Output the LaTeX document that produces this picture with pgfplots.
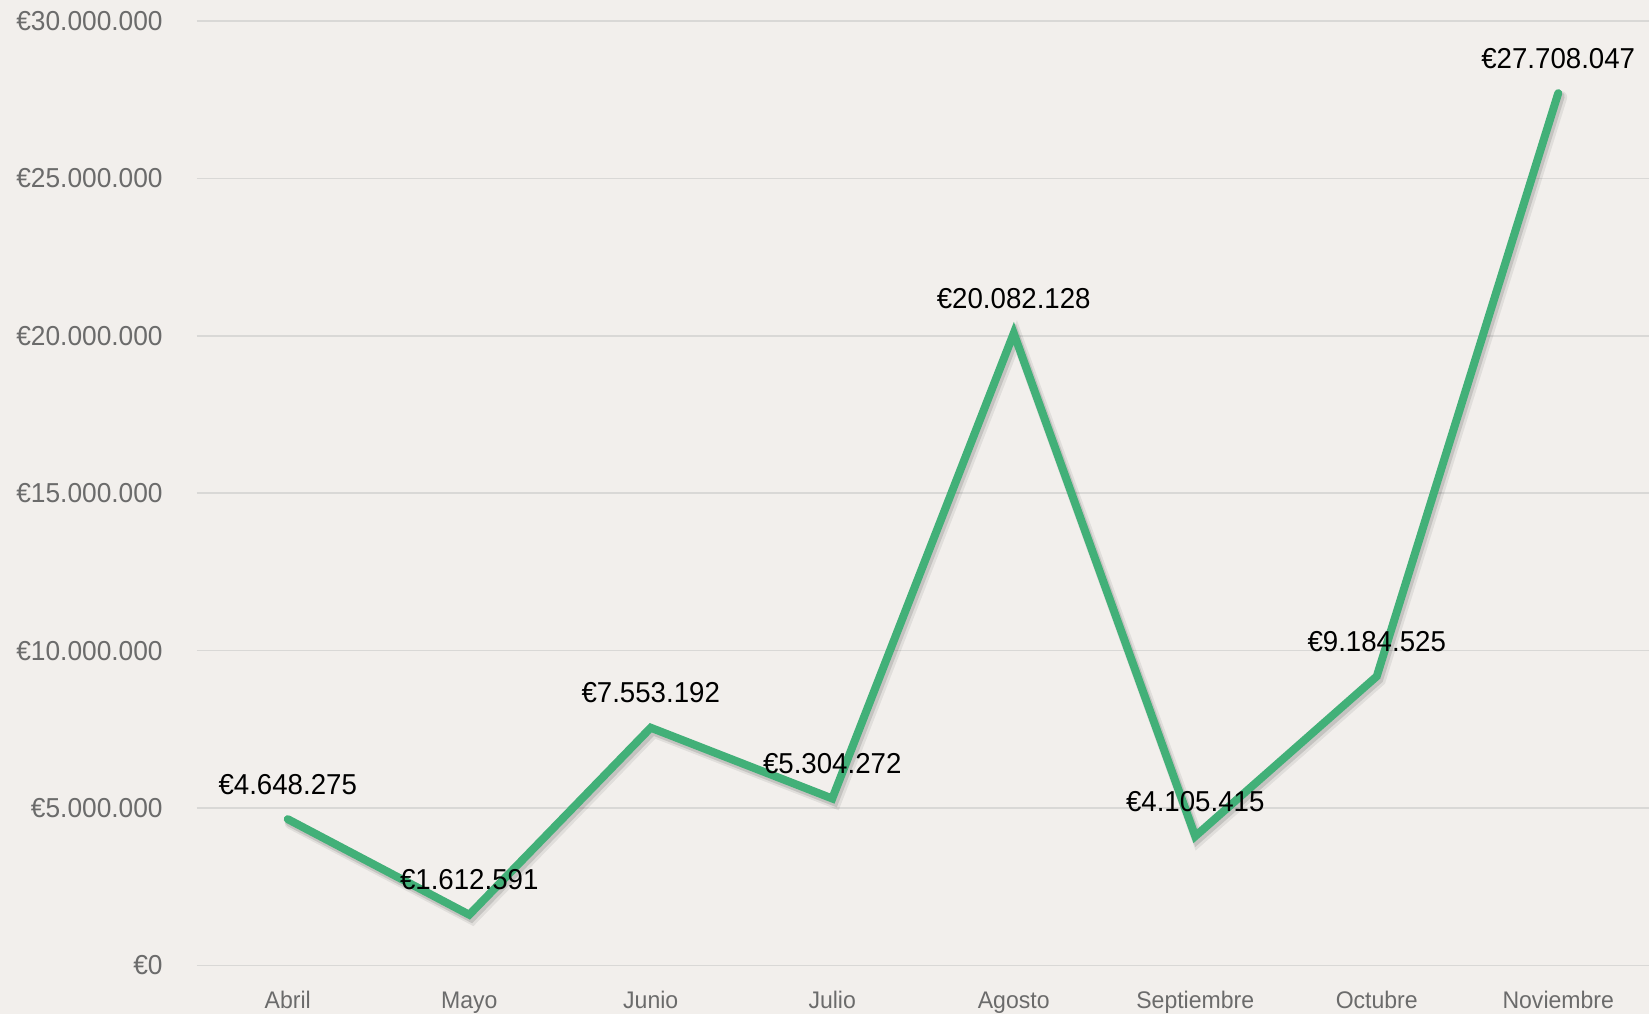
\documentclass[border=0pt]{standalone}
\usepackage{fontspec}
\setmainfont{Liberation Sans}[FakeStretch=0.96]
\usepackage{pgfplots}
\pgfplotsset{compat=1.18}
\definecolor{bg}{HTML}{F2EFEC}
\definecolor{gridc}{HTML}{D9D8D6}
\definecolor{tickc}{HTML}{6B6B6B}
\definecolor{verde}{HTML}{42B078}

\begin{document}
\begin{tikzpicture}
\fill[bg] (-98.5pt,-24.25pt) rectangle (726pt,482.75pt);
\begin{axis}[
  at={(0,0)}, anchor=south west,
  scale only axis,
  width=726pt, height=472.25pt,
  xmin=-0.5, xmax=7.5,
  ymin=0, ymax=30000000,
  axis line style={draw=none},
  tick style={draw=none},
  xtick={0,1,2,3,4,5,6,7},
  xticklabels={Abril,Mayo,Junio,Julio,Agosto,Septiembre,Octubre,Noviembre},
  ytick={0,5000000,10000000,15000000,20000000,25000000,30000000},
  yticklabels={€0,€5.000.000,€10.000.000,€15.000.000,€20.000.000,€25.000.000,€30.000.000},
  scaled y ticks=false,
  ymajorgrids=true,
  grid style={gridc, line width=0.8pt},
  xticklabel style={font=\fontsize{12}{15}\selectfont, text=tickc, anchor=base, yshift=-21.25pt},
  yticklabel style={font=\fontsize{13.7}{16}\selectfont, text=tickc, anchor=east, inner sep=0pt, xshift=-17pt},
  clip=false,
]
% soft shadow under the line
\addplot[draw=black, opacity=0.07, line width=6pt, line cap=round, xshift=1.5pt, yshift=-2pt, forget plot]
coordinates {(0,4648275) (1,1612591) (2,7553192) (3,5304272) (4,20082128) (5,4105415) (6,9184525) (7,27708047)};
\addplot[draw=black, opacity=0.12, line width=4.5pt, line cap=round, xshift=1pt, yshift=-1.5pt, forget plot]
coordinates {(0,4648275) (1,1612591) (2,7553192) (3,5304272) (4,20082128) (5,4105415) (6,9184525) (7,27708047)};
% main series
\addplot[draw=verde, line width=4pt, line cap=round, line join=miter, mark=none,
  point meta=explicit symbolic,
  nodes near coords,
  nodes near coords style={anchor=center, yshift=17.4pt, font=\fontsize{14.4}{17}\selectfont, text=black}]
coordinates {
  (0,4648275) [€4.648.275]
  (1,1612591) [€1.612.591]
  (2,7553192) [€7.553.192]
  (3,5304272) [€5.304.272]
  (4,20082128) [€20.082.128]
  (5,4105415) [€4.105.415]
  (6,9184525) [€9.184.525]
  (7,27708047) [€27.708.047]
};
\end{axis}
\pgfresetboundingbox
\path (-98.5pt,-24.25pt) rectangle (726pt,482.75pt);
\end{tikzpicture}
\end{document}
